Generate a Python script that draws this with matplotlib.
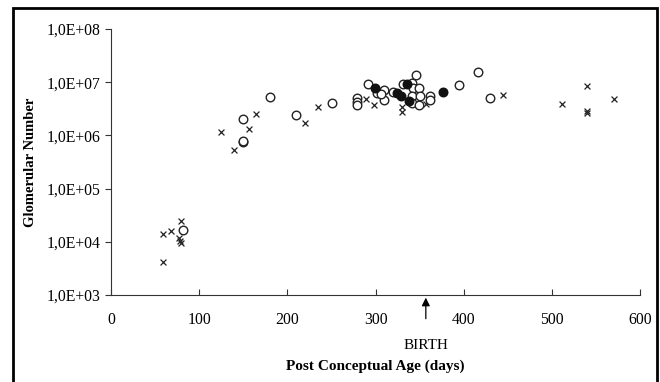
import matplotlib.pyplot as plt
from matplotlib.patches import Rectangle

# crosses
cross_age = [59, 59, 68, 77, 78, 80, 80, 125, 139, 156, 164, 220, 235, 289, 298,
             330, 330, 357, 444, 511, 540, 540, 540, 570]
cross_num = [1.4e4, 4.2e3, 1.6e4, 1.2e4, 1.05e4, 9.5e3, 2.45e4, 1.15e6, 5.3e5, 1.3e6,
             2.5e6, 1.7e6, 3.4e6, 4.8e6, 3.7e6, 3.4e6, 2.8e6, 3.9e6, 5.7e6, 3.9e6,
             8.5e6, 2.9e6, 2.6e6, 4.8e6]

# open circles
open_age = [82, 150, 150, 150, 180, 210, 251, 279, 279, 279, 291, 302, 310, 310, 306,
            320, 331, 341, 346, 342, 349, 341, 350, 341, 349, 362, 362, 395, 416, 430]
open_num = [1.65e4, 7.5e5, 8.0e5, 2.0e6, 5.2e6, 2.4e6, 4.1e6, 5.0e6, 4.2e6, 3.7e6,
            9.3e6, 6.3e6, 7.1e6, 4.7e6, 5.9e6, 6.6e6, 9.3e6, 9.6e6, 1.37e7, 7.8e6,
            7.8e6, 5.5e6, 5.5e6, 4.1e6, 3.7e6, 5.5e6, 4.7e6, 8.9e6, 1.55e7, 5.0e6]

# filled circles
filled_age = [299, 324, 329, 336, 338, 376]
filled_num = [7.8e6, 6.3e6, 5.5e6, 9.3e6, 4.4e6, 6.6e6]

yticks = [1e3, 1e4, 1e5, 1e6, 1e7, 1e8]
ylabels = ["1,0E+03", "1,0E+04", "1,0E+05", "1,0E+06", "1,0E+07", "1,0E+08"]
xticks = [0, 100, 200, 300, 400, 500, 600]
birth_age = 357

plt.rcParams['font.family'] = ['Liberation Serif', 'DejaVu Serif']

fig = plt.figure(figsize=(6.6, 3.82), dpi=100)
ax = fig.add_axes([0.168, 0.228, 0.802, 0.696])

ax.scatter(cross_age, cross_num, marker="x", s=18, color="#222222", linewidths=0.9, zorder=3)
ax.scatter(open_age, open_num, marker="o", s=38, facecolors="white", edgecolors="#222222",
           linewidths=1.0, zorder=3)
ax.scatter(filled_age, filled_num, marker="o", s=38, color="#111111", zorder=4)

ax.set_yscale("log")
ax.set_ylim(1e3, 1e8)
ax.set_xlim(0, 600)
ax.set_yticks(yticks)
ax.set_yticklabels(ylabels)
ax.minorticks_off()
ax.set_xticks(xticks)

ax.spines["top"].set_visible(False)
ax.spines["right"].set_visible(False)
ax.spines["left"].set_color("#333333")
ax.spines["bottom"].set_color("#333333")
ax.tick_params(axis="y", direction="out", length=4, labelsize=11.3, color="#333333")
ax.tick_params(axis="x", direction="in", length=4, labelsize=11.3, pad=12, color="#333333")

ax.set_ylabel("Glomerular Number", fontsize=10.5, fontweight="bold", labelpad=7)
ax.set_xlabel("Post Conceptual Age (days)", fontsize=11, fontweight="bold", labelpad=23)

# birth arrow
ax.annotate("", xy=(birth_age, 1e3), xycoords="data",
            xytext=(birth_age, -0.1), textcoords=("data", "axes fraction"),
            arrowprops=dict(arrowstyle="-|>", color="black", lw=0.9, mutation_scale=12),
            annotation_clip=False)
ax.text(birth_age, -0.19, "BIRTH", transform=ax.get_xaxis_transform(),
        ha="center", va="center", fontsize=11)

# outer frame
fig.patches.append(Rectangle((0.02, -0.05), 0.975, 1.03, transform=fig.transFigure,
                             fill=False, edgecolor="black", lw=2))

fig.savefig("out.png", dpi=100)
